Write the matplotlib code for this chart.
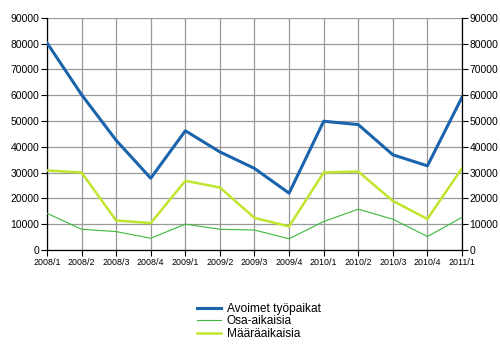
import matplotlib
matplotlib.use("Agg")
import matplotlib.pyplot as plt

quarters = ["2008/1", "2008/2", "2008/3", "2008/4", "2009/1", "2009/2", "2009/3",
            "2009/4", "2010/1", "2010/2", "2010/3", "2010/4", "2011/1"]
avoimet = [80300, 60200, 42500, 27800, 46200, 38000, 31600, 22000, 49900, 48600, 36900, 32600, 59200]
osa_aikaisia = [14200, 8000, 7100, 4500, 10000, 8000, 7700, 4300, 11000, 15800, 11900, 5200, 12600]
maaraaikaisia = [30800, 30000, 11400, 10400, 26800, 24200, 12400, 9100, 30000, 30400, 19000, 12000, 31700]
yticks = list(range(0, 90001, 10000))

plt.rcParams['font.family'] = ['Liberation Sans', 'DejaVu Sans']

fig = plt.figure(figsize=(5, 3.5), dpi=100)
ax = fig.add_axes([0.094, 0.286, 0.83, 0.663])

x = range(len(quarters))
ax.plot(x, avoimet, color='#1a64ad', lw=2.2, label='Avoimet työpaikat', zorder=3)
ax.plot(x, osa_aikaisia, color='#3cb93c', lw=0.8, label='Osa-aikaisia', zorder=3)
ax.plot(x, maaraaikaisia, color='#bfe62d', lw=1.8, label='Määräaikaisia', zorder=3)

ax.set_xlim(0, len(quarters) - 1)
ax.set_ylim(0, 90000)
ax.set_xticks(list(x))
ax.set_xticklabels(quarters, fontsize=6.4)
ax.set_yticks(yticks)
ax.set_yticklabels([str(v) for v in yticks], fontsize=7.5)
ax.tick_params(axis='y', right=True, labelright=True, length=4, width=0.8, pad=1.5)
ax.tick_params(axis='x', length=4, width=0.8, pad=2)
ax.grid(True, color='#999999', lw=0.9)
ax.set_axisbelow(True)
ax.spines['top'].set_visible(False)
for s in ['left', 'right', 'bottom']:
    ax.spines[s].set_linewidth(0.9)

fig.legend(loc='center', bbox_to_anchor=(0.518, 0.082), frameon=False, fontsize=8.6,
           handlelength=2.0, labelspacing=0.05, handletextpad=0.45)

fig.savefig('out.png', dpi=100)
